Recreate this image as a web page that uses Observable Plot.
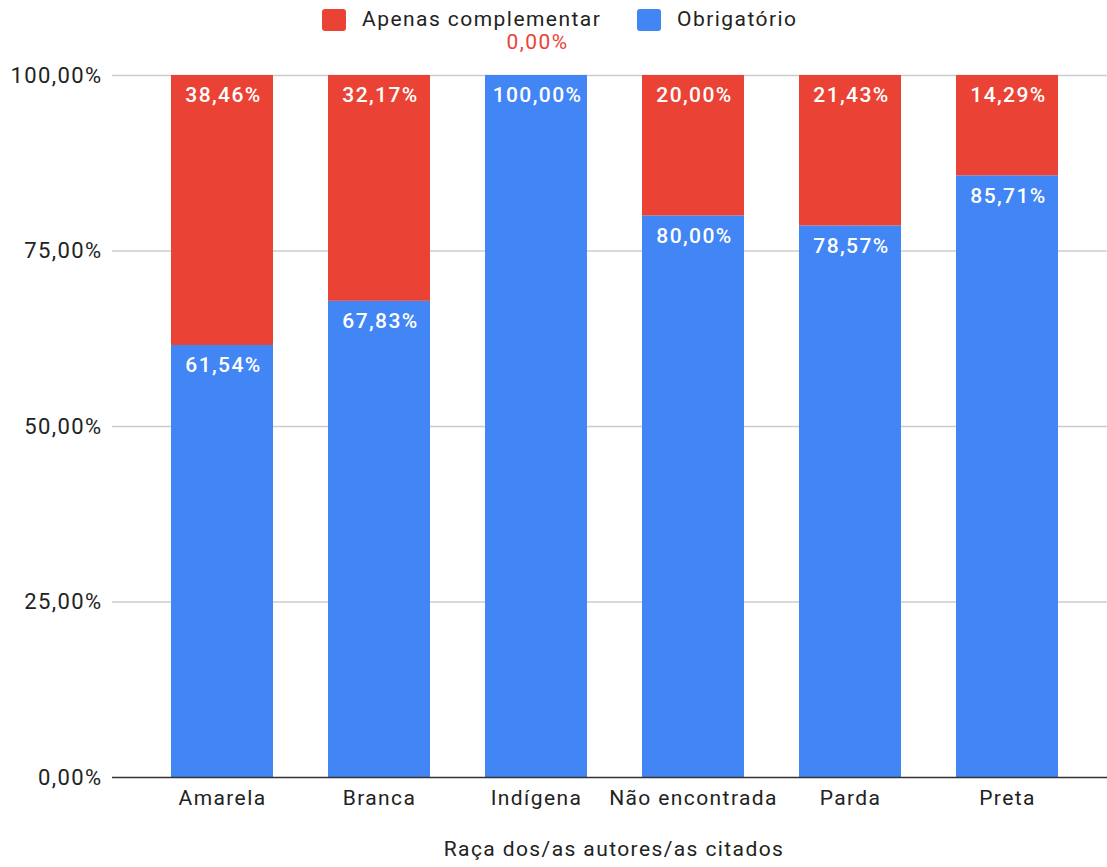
<!DOCTYPE html>
<html>
<head>
<meta charset="utf-8">
<script src="https://cdn.jsdelivr.net/npm/d3@7"></script>
<script src="https://cdn.jsdelivr.net/npm/@observablehq/plot@0.6"></script>
<style>
  html, body { margin: 0; padding: 0; background: #fff; }
  body { width: 1107px; height: 867px; overflow: hidden; position: relative; font-family: Roboto, "Open Sans", sans-serif; }
  .legend { position: absolute; left: 0; top: 0; width: 1107px; height: 32px; z-index: 2; }
  .legend .item { position: absolute; top: 8px; height: 23px; display: flex; align-items: center; font-size: 21px; line-height: 23px; letter-spacing: 1.45px; color: #222; }
  .legend .sw { width: 24px; height: 22px; border-radius: 3px; margin-right: 16px; }
  #chart svg text { letter-spacing: 1.4px; }
</style>
</head>
<body>
<div class="legend" id="legend"></div>
<div id="chart"></div>
<script>
// Categories and series values (%)
const categories = ["Amarela", "Branca", "Indígena", "Não encontrada", "Parda", "Preta"];
const obrigatorio = [61.54, 67.83, 100.00, 80.00, 78.57, 85.71];
const complementar = [38.46, 32.17, 0.00, 20.00, 21.43, 14.29];
const seriesNames = ["Apenas complementar", "Obrigatório"];
const seriesColors = ["#ea4335", "#4285f4"];
const yTicks = [0, 25, 50, 75, 100];
const xTitle = "Raça dos/as autores/as citados";

const fmt = v => v.toFixed(2).replace(".", ",") + "%";

// Long table: "Obrigatório" at the bottom, "Apenas complementar" stacked on top
const rows = [];
categories.forEach((c, i) => {
  rows.push({cat: c, serie: "Obrigatório", y1: 0, y2: obrigatorio[i], v: obrigatorio[i]});
  rows.push({cat: c, serie: "Apenas complementar", y1: obrigatorio[i], y2: obrigatorio[i] + complementar[i], v: complementar[i]});
});
const visible = rows.filter(d => d.v > 0);
const zeros = rows.filter(d => d.v === 0);

// Legend
const legend = document.getElementById("legend");
const legendX = [322, 637];
seriesNames.forEach((s, i) => {
  const it = document.createElement("div");
  it.className = "item";
  it.style.left = legendX[i] + "px";
  it.innerHTML = `<span class="sw" style="background:${seriesColors[i]}"></span><span>${s}</span>`;
  legend.appendChild(it);
});

const chart = Plot.plot({
  width: 1107,
  height: 867,
  marginTop: 75,
  marginBottom: 90,
  marginLeft: 112,
  marginRight: 0,
  style: {fontFamily: "Roboto, sans-serif", background: "#fff", overflow: "visible"},
  x: {domain: categories, range: [116, 1114], paddingInner: 0.35, paddingOuter: 0.35, label: null},
  y: {domain: [0, 100], label: null},
  color: {domain: seriesNames, range: seriesColors},
  marks: [
    Plot.ruleY(yTicks.filter(t => t > 0), {stroke: "#cccccc", strokeWidth: 1.5}),
    Plot.barY(visible, {x: "cat", y1: "y1", y2: "y2", fill: "serie", inset: 0}),
    Plot.ruleY([0], {stroke: "#333", strokeWidth: 1.5}),
    Plot.text(visible, {x: "cat", y: "y2", text: d => fmt(d.v), dy: 20, dx: 1, fill: "#fff", fontSize: 21, fontWeight: 500}),
    Plot.text(zeros, {x: "cat", y: "y2", text: d => fmt(d.v), dy: -33, dx: 1, fill: "#ea4335", fontSize: 21}),
    Plot.axisY({ticks: yTicks, tickFormat: fmt, tickSize: 0, tickPadding: 10, fontSize: 22, fill: "#222", label: null}),
    Plot.axisX({tickSize: 0, tickPadding: 13, fontSize: 21, fill: "#222", label: null}),
    Plot.text([xTitle], {frameAnchor: "bottom", dy: 78, dx: 4, fontSize: 21, fill: "#222"})
  ]
});
document.getElementById("chart").appendChild(chart);
</script>
</body>
</html>
